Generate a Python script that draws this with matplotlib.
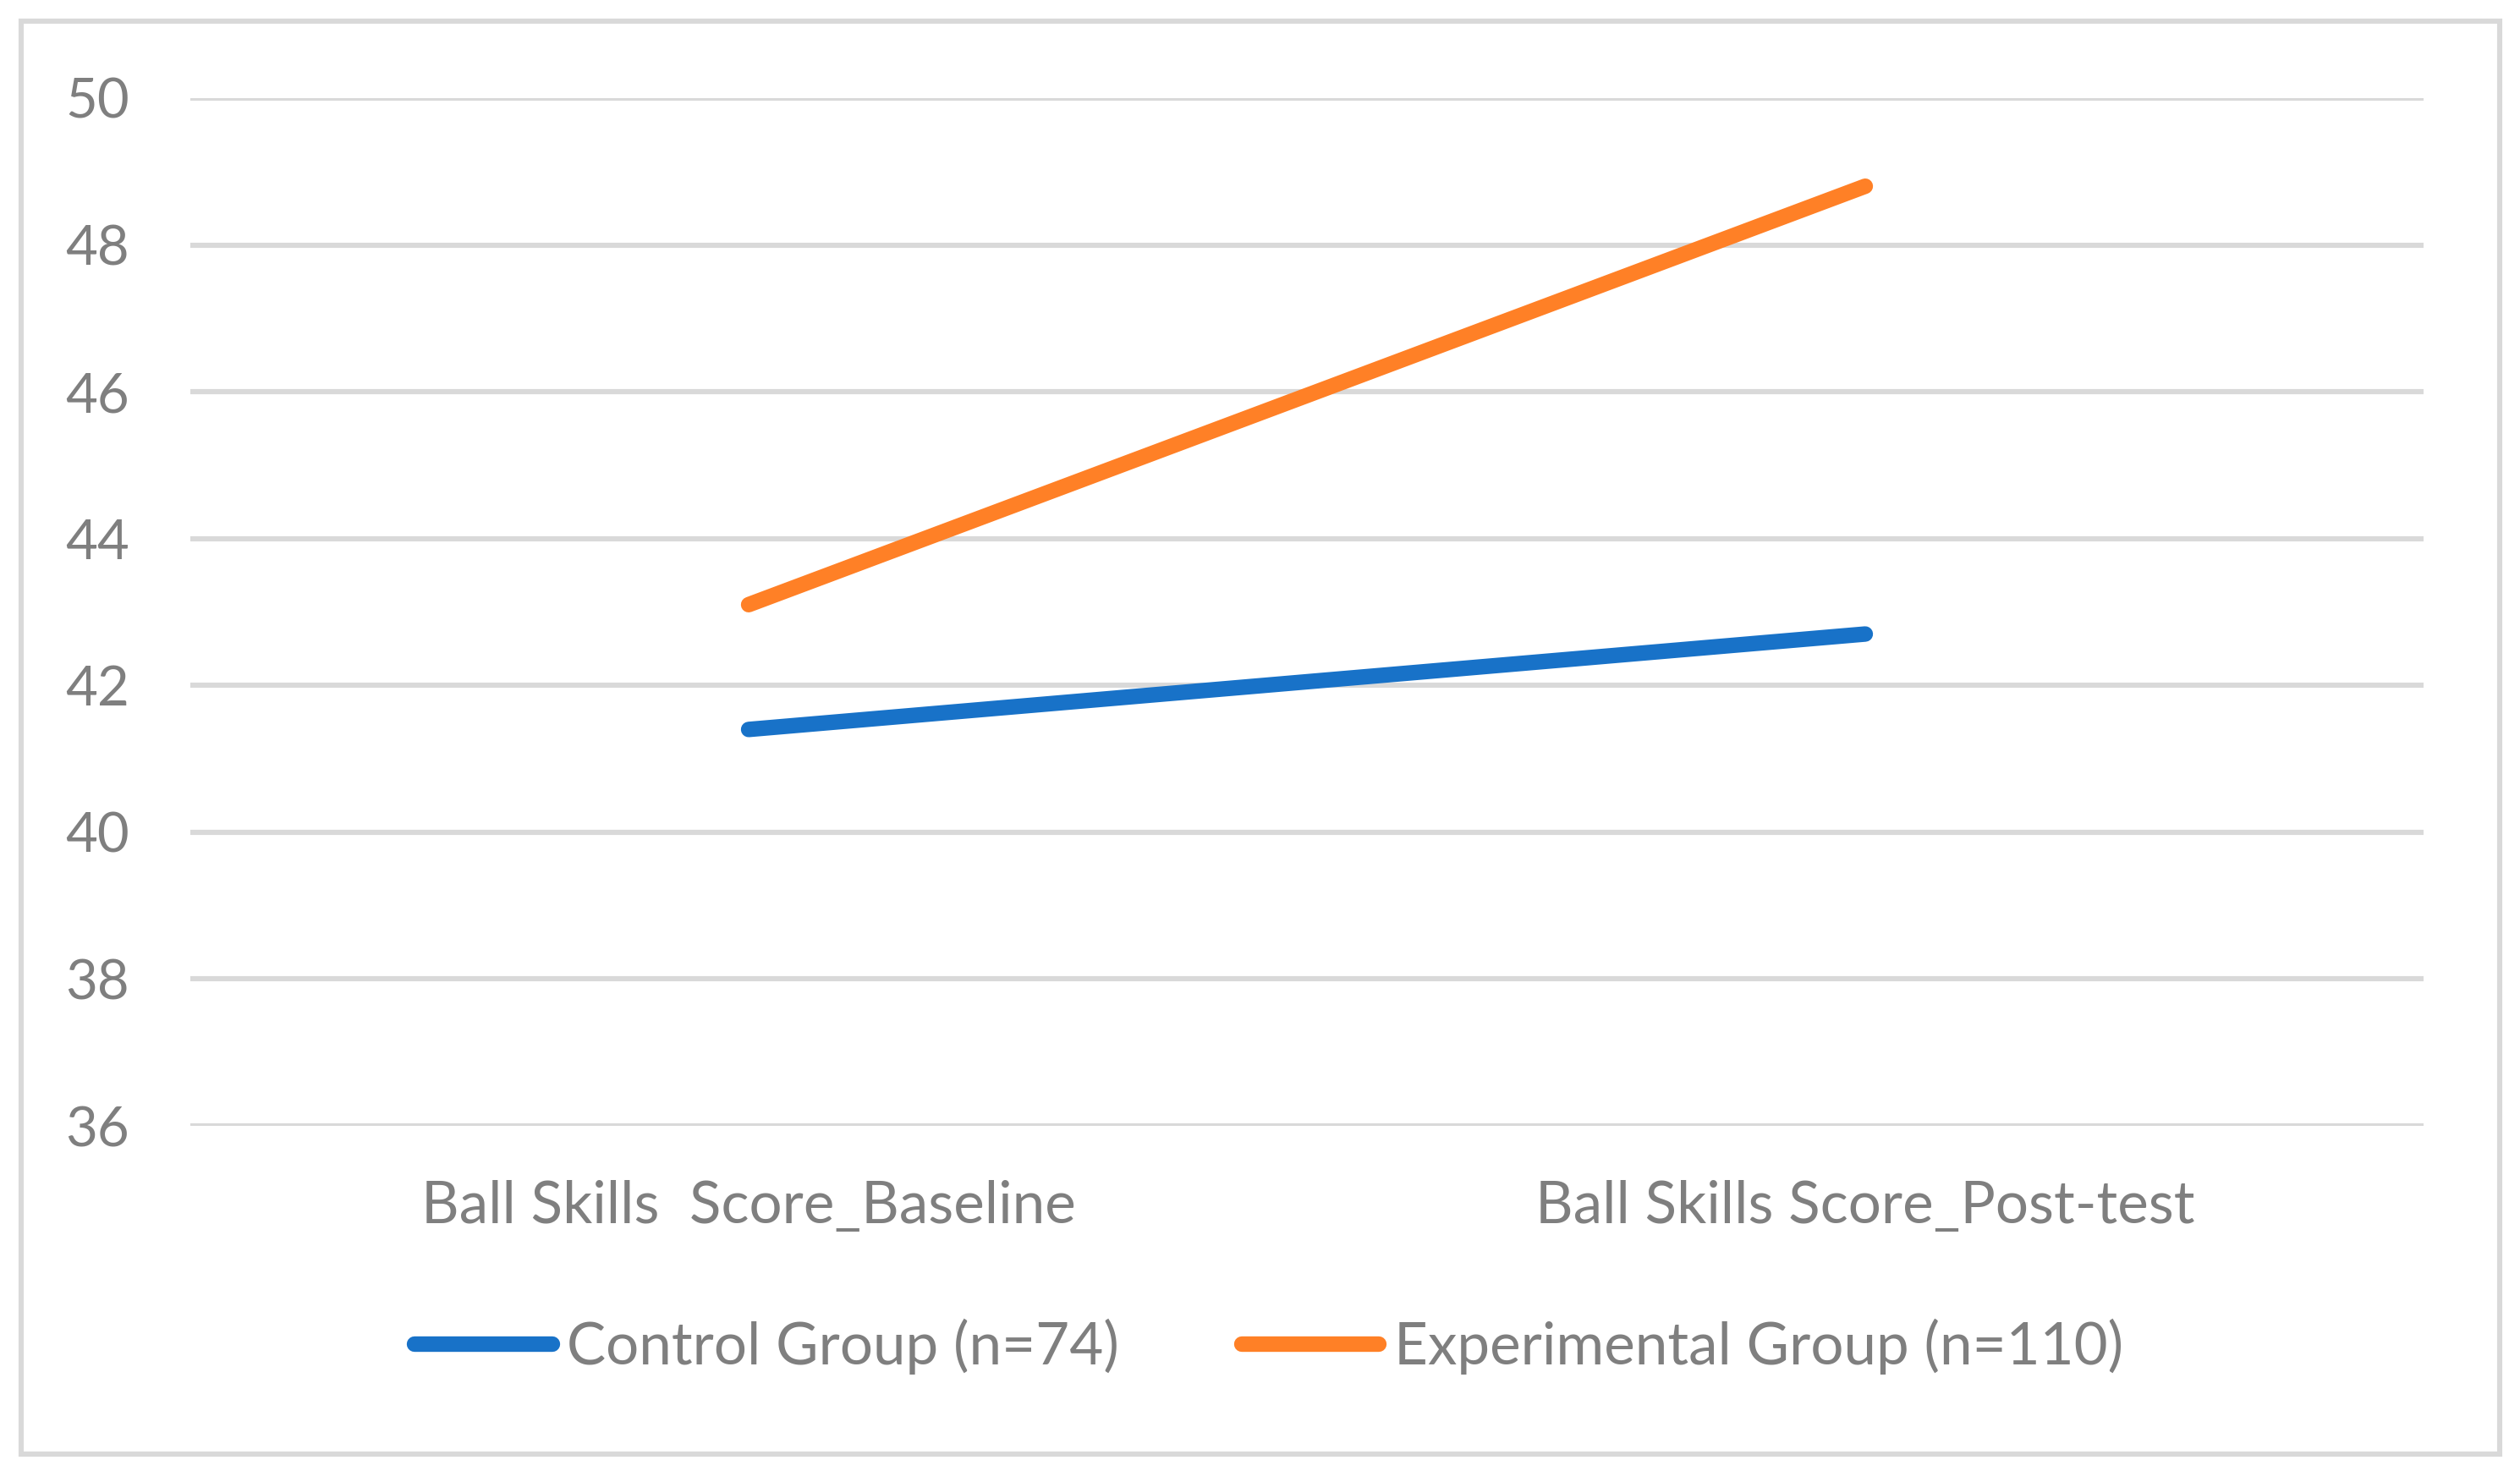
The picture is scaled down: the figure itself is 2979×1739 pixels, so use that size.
import matplotlib
matplotlib.use("Agg")
import matplotlib.pyplot as plt
from matplotlib.patches import Rectangle
from matplotlib.lines import Line2D

categories = ["Ball Skills  Score_Baseline", "Ball Skills Score_Post-test"]
series_names = ["Control Group (n=74)", "Experimental Group (n=110)"]
control = [41.4, 42.7]
experimental = [43.1, 48.8]
y_ticks = [36, 38, 40, 42, 44, 46, 48, 50]

W, H, DPI = 2979, 1739, 200
plt.rcParams['font.family'] = ['Lato', 'DejaVu Sans']
text_color = '#7F7F7F'
grid_color = '#D9D9D9'
blue = '#1872C8'
orange = '#FF8026'
fs_y = 23.5
fs = 24.9

fig = plt.figure(figsize=(W / DPI, H / DPI), dpi=DPI)
fig.patch.set_facecolor('white')

# outer border
fig.patches.append(Rectangle((25 / W, 1 - 1719 / H), (2955 - 25) / W, (1719 - 25) / H,
                             transform=fig.transFigure, fill=False,
                             edgecolor=grid_color, linewidth=2.2, zorder=0))

left, right = 225 / W, 2865 / W
bottom, top = 1 - 1331 / H, 1 - 116 / H
ax = fig.add_axes([left, bottom, right - left, top - bottom])
ax.set_xlim(0, 2)
ax.set_ylim(36, 50)
ax.set_yticks(y_ticks)
ax.set_yticklabels([str(t) for t in y_ticks])
ax.set_xticks([0.5, 1.5])
ax.set_xticklabels(categories)
for s in ax.spines.values():
    s.set_visible(False)
ax.tick_params(axis='both', length=0, labelcolor=text_color)
ax.tick_params(axis='y', pad=26, labelsize=fs_y)
ax.tick_params(axis='x', pad=23, labelsize=fs)
ax.grid(axis='y', color=grid_color, linewidth=2.2)
ax.set_axisbelow(True)

x = [0.5, 1.5]
ax.plot(x, control, color=blue, linewidth=6.6, solid_capstyle='round', label=series_names[0])
ax.plot(x, experimental, color=orange, linewidth=6.6, solid_capstyle='round', label=series_names[1])

handles = [Line2D([], [], color=blue, linewidth=6.6, solid_capstyle='round'),
           Line2D([], [], color=orange, linewidth=6.6, solid_capstyle='round')]
leg = fig.legend(handles, series_names, loc='center', bbox_to_anchor=(0.5035, 1 - 1592 / H),
                 ncol=2, frameon=False, fontsize=fs, handlelength=2.35,
                 handletextpad=0.25, columnspacing=2.1)
for t in leg.get_texts():
    t.set_color(text_color)

fig.savefig('out.png', dpi=DPI)
